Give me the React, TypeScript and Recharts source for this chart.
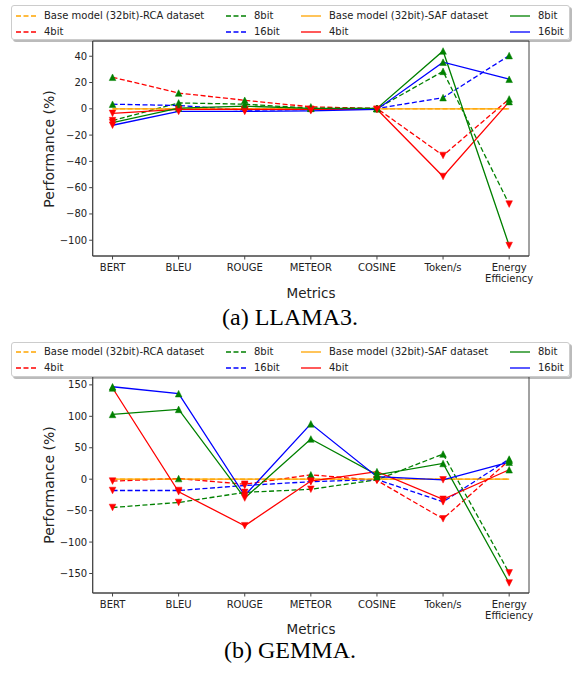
import React from 'react';
import { LineChart, Line, XAxis, YAxis, ReferenceArea } from 'recharts';

const metrics = ['BERT', 'BLEU', 'ROUGE', 'METEOR', 'COSINE', 'Token/s', 'Energy Efficiency'];
const baseValues = [0, 0, 0, 0, 0, 0, 0];

// LLAMA3
const llamaRca4 = [24, 12, 6.5, 1.5, 0.3, -35.5, 7.5];
const llamaRca8 = [-9, 4.5, 3.5, 0.5, 0.2, 28.5, -72.5];
const llamaRca16 = [3.5, 2.5, -1, -0.5, 0.2, 8.5, 40.5];
const llamaSaf4 = [-3.5, -0.5, -0.5, -0.5, -0.3, -51.5, 5.5];
const llamaSaf8 = [-10.5, 0.5, 2, 0.3, 0.3, 44, -104];
const llamaSaf16 = [-12.5, -2, -2, -1.5, -0.5, 35.5, 22.5];
const llamaTicks = [-100, -80, -60, -40, -20, 0, 20, 40];
const llamaDomain = [-112, 51.6];

// GEMMA
const gemmaRca4 = [-3, 1, -8, 7, -2, -63, 30];
const gemmaRca8 = [-45, -37, -21, -16, -1, 40, -149];
const gemmaRca16 = [-18, -18, -10, -4, -0.5, -36, 32];
const gemmaSaf4 = [145, -20, -74, -3, 12, -32, 15];
const gemmaSaf8 = [103, 111, -30, 64, 7, 25, -165];
const gemmaSaf16 = [147, 136, -26, 88, 4, -1, 27];
const gemmaTicks = [-150, -100, -50, 0, 50, 100, 150];
const gemmaDomain = [-181, 163];

const seriesDefs = [
  { key: 'rcaBase', name: 'Base model (32bit)-RCA dataset', color: 'orange', dashed: true, markers: false },
  { key: 'rca4', name: '4bit', color: 'red', dashed: true, markers: true },
  { key: 'rca8', name: '8bit', color: 'green', dashed: true, markers: true },
  { key: 'rca16', name: '16bit', color: 'blue', dashed: true, markers: true },
  { key: 'safBase', name: 'Base model (32bit)-SAF dataset', color: 'orange', dashed: false, markers: false },
  { key: 'saf4', name: '4bit', color: 'red', dashed: false, markers: true },
  { key: 'saf8', name: '8bit', color: 'green', dashed: false, markers: true },
  { key: 'saf16', name: '16bit', color: 'blue', dashed: false, markers: true },
];

function buildRows(r4: number[], r8: number[], r16: number[], s4: number[], s8: number[], s16: number[]) {
  return metrics.map((m, i) => ({
    x: i,
    name: m,
    rcaBase: baseValues[i],
    rca4: r4[i],
    rca8: r8[i],
    rca16: r16[i],
    safBase: baseValues[i],
    saf4: s4[i],
    saf8: s8[i],
    saf16: s16[i],
  }));
}

const llamaRows = buildRows(llamaRca4, llamaRca8, llamaRca16, llamaSaf4, llamaSaf8, llamaSaf16);
const gemmaRows = buildRows(gemmaRca4, gemmaRca8, gemmaRca16, gemmaSaf4, gemmaSaf8, gemmaSaf16);

const FONT = 'DejaVu Sans, sans-serif';
const AXIS = '#444';

const TriangleDot = (props: any) => {
  const { cx, cy, value, index, dataKey } = props;
  const k = `${dataKey}-${index}`;
  if (cx == null || cy == null || value == null || value === 0) return <g key={k} />;
  const s = 3.3;
  if (value > 0) {
    return <polygon key={k} points={`${cx},${cy - s} ${cx - s},${cy + s} ${cx + s},${cy + s}`} fill="green" stroke="green" strokeWidth={0.5} />;
  }
  return <polygon key={k} points={`${cx},${cy + s} ${cx - s},${cy - s} ${cx + s},${cy - s}`} fill="red" stroke="red" strokeWidth={0.5} />;
};

const XTick = (props: any) => {
  const { x, y, payload } = props;
  const label = metrics[payload.value] ?? '';
  const parts = label === 'Energy Efficiency' ? ['Energy', 'Efficiency'] : [label];
  return (
    <text x={x} y={y} textAnchor="middle" fontSize={10} fontFamily={FONT} fill="#222">
      {parts.map((p, i) => (
        <tspan key={i} x={x} dy={i === 0 ? 9 : 11.7}>{p}</tspan>
      ))}
    </text>
  );
};

const fmtY = (v: number) => (v < 0 ? '\u2212' + Math.abs(v) : String(v));

function Panel({ rows, ticks, domain, top, height, plotTop, plotBottom }: any) {
  const left = 92.7;
  const right = 529;
  const yAxisW = 40;
  const xAxisH = 30;
  return (
    <div style={{ position: 'absolute', left: 0, top }}>
      <LineChart
        width={577}
        height={height}
        data={rows}
        margin={{ top: plotTop, left: left - yAxisW, right: 577 - right, bottom: height - plotBottom - xAxisH }}
      >
        <XAxis
          dataKey="x"
          type="number"
          domain={[-0.3, 6.3]}
          ticks={[0, 1, 2, 3, 4, 5, 6]}
          allowDataOverflow
          interval={0}
          height={xAxisH}
          tick={<XTick />}
          tickSize={3.5}
          tickMargin={2}
          stroke={AXIS}
          tickLine={{ stroke: AXIS }}
          axisLine={{ stroke: AXIS }}
        />
        <YAxis
          type="number"
          domain={domain}
          ticks={ticks}
          allowDataOverflow
          interval={0}
          width={yAxisW}
          tickFormatter={fmtY}
          tickSize={3.5}
          tickMargin={2}
          tick={{ fontSize: 10, fontFamily: FONT, fill: '#222' }}
          stroke={AXIS}
          tickLine={{ stroke: AXIS }}
          axisLine={{ stroke: AXIS }}
        />
        <ReferenceArea x1={-0.3} x2={6.3} y1={domain[0]} y2={domain[1]} fill="none" stroke={AXIS} strokeWidth={1} ifOverflow="visible" />
        {seriesDefs.map((s) => (
          <Line
            key={s.key}
            dataKey={s.key}
            type="linear"
            stroke={s.color}
            strokeWidth={1.3}
            strokeDasharray={s.dashed ? '5 2.5' : undefined}
            dot={s.markers ? (p: any) => <TriangleDot {...p} dataKey={s.key} /> : false}
            activeDot={false}
            isAnimationActive={false}
          />
        ))}
      </LineChart>
    </div>
  );
}

const legendCols = [
  { handle: 15, text: 43, rows: [seriesDefs[0], seriesDefs[1]] },
  { handle: 225, text: 253, rows: [seriesDefs[2], seriesDefs[3]] },
  { handle: 300, text: 328, rows: [seriesDefs[4], seriesDefs[5]] },
  { handle: 509, text: 537, rows: [seriesDefs[6], seriesDefs[7]] },
];

function LegendBox({ top }: { top: number }) {
  const rowY = [9.5, 25.5];
  return (
    <div
      style={{
        position: 'absolute',
        left: 11,
        top,
        width: 559,
        height: 35,
        border: '1px solid #cccccc',
        borderRadius: 3,
        background: 'rgba(255,255,255,0.9)',
        boxShadow: '2px 2px 0 rgba(60,60,60,0.35)',
        boxSizing: 'border-box',
        zIndex: 5,
      }}
    >
      {legendCols.map((c, ci) =>
        c.rows.map((s, ri) => (
          <React.Fragment key={`${ci}-${ri}`}>
            <svg style={{ position: 'absolute', left: c.handle - 11, top: rowY[ri] - 4 }} width={20} height={8}>
              <line x1={0} y1={4} x2={20} y2={4} stroke={s.color} strokeWidth={1.3} strokeDasharray={s.dashed ? '5 2.5' : undefined} />
            </svg>
            <div
              style={{
                position: 'absolute',
                left: c.text - 11,
                top: rowY[ri] - 7,
                fontSize: 10,
                lineHeight: '13px',
                fontFamily: FONT,
                color: '#222',
                whiteSpace: 'nowrap',
              }}
            >
              {s.name}
            </div>
          </React.Fragment>
        ))
      )}
    </div>
  );
}

function Labels({ plotTop, plotBottom, metricsY, captionY, caption }: any) {
  const mid = (plotTop + plotBottom) / 2;
  return (
    <>
      <div
        style={{
          position: 'absolute',
          left: 49,
          top: mid,
          transform: 'translate(-50%, -50%) rotate(-90deg)',
          fontSize: 14,
          fontFamily: FONT,
          color: '#222',
          whiteSpace: 'nowrap',
          lineHeight: '16px',
        }}
      >
        Performance (%)
      </div>
      <div
        style={{
          position: 'absolute',
          left: 311,
          top: metricsY,
          transform: 'translate(-50%, -50%)',
          fontSize: 13.5,
          fontFamily: FONT,
          color: '#222',
          whiteSpace: 'nowrap',
          lineHeight: '16px',
        }}
      >
        Metrics
      </div>
      <div
        style={{
          position: 'absolute',
          left: 290,
          top: captionY,
          transform: 'translate(-50%, -50%)',
          fontSize: 24,
          fontFamily: 'Liberation Serif, serif',
          color: '#000',
          whiteSpace: 'nowrap',
          lineHeight: '28px',
        }}
      >
        {caption}
      </div>
    </>
  );
}

export default function App() {
  return (
    <div style={{ position: 'absolute', left: 0, top: 0, width: 577, height: 673, background: '#fff', overflow: 'hidden' }}>
      <Panel rows={llamaRows} ticks={llamaTicks} domain={llamaDomain} top={0} height={340} plotTop={41} plotBottom={256} />
      <LegendBox top={5} />
      <Labels plotTop={41} plotBottom={256} metricsY={293} captionY={317} caption="(a) LLAMA3." />
      <Panel rows={gemmaRows} ticks={gemmaTicks} domain={gemmaDomain} top={340} height={333} plotTop={36.7} plotBottom={253} />
      <LegendBox top={341.5} />
      <Labels plotTop={376.7} plotBottom={593} metricsY={629} captionY={650} caption="(b) GEMMA." />
    </div>
  );
}
